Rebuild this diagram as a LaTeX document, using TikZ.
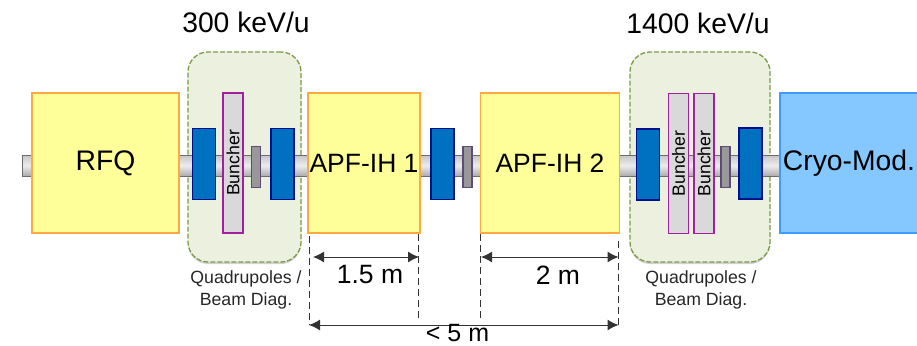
\documentclass[tikz,border=0pt]{standalone}
\usepackage{fontspec}
\setmainfont{Liberation Sans}
\usetikzlibrary{arrows.meta,shadows}
\definecolor{cavfill}{HTML}{FFFF99}
\definecolor{cavline}{HTML}{FFA940}
\definecolor{cryofill}{HTML}{85C8FF}
\definecolor{cryoline}{HTML}{3E9BFF}
\definecolor{diagfill}{HTML}{EBF1DE}
\definecolor{diagline}{HTML}{7C9A48}
\definecolor{quadfill}{HTML}{0070C0}
\definecolor{quadline}{HTML}{000F8C}
\definecolor{bunchline}{HTML}{A0209F}
\definecolor{monfill}{HTML}{989898}
\definecolor{monline}{HTML}{5F4A7B}
\tikzset{
  elem/.style={draw,inner sep=0pt,outer sep=0pt,line width=1.5pt},
  cav/.style={elem,fill=cavfill,draw=cavline},
  cryo/.style={elem,fill=cryofill,draw=cryoline},
  diag/.style={elem,rounded corners=20pt,dashed,dash pattern=on 5pt off 2pt,fill=diagfill,draw=diagline,line width=1.3pt,
    drop shadow={shadow xshift=0pt,shadow yshift=-2pt,fill=black,opacity=.18}},
  quad/.style={elem,fill=quadfill,draw=quadline,minimum width=23pt,minimum height=71pt},
  mon/.style={elem,fill=monfill,draw=monline,minimum width=9pt,minimum height=41pt},
  bunch/.style={elem,fill=gray!30,draw=bunchline,font=\fontsize{17.7}{20}\selectfont,rotate=90,
    minimum width=140pt,minimum height=20pt},
  pipe/.style={elem,draw=gray!85!black,line width=1pt,top color=gray!45,bottom color=gray!65,middle color=gray!15,minimum width=758pt,minimum height=21pt},
  big/.style={font=\fontsize{28.3}{32}\selectfont},
  mid/.style={font=\fontsize{26.5}{30}\selectfont},
  small/.style={font=\fontsize{17.7}{22}\selectfont,align=center,text=black!85},
  dimline/.style={gray!40!black,line width=.9pt,dashed,dash pattern=on 7pt off 4pt},
  dimarrow/.style={black!80,line width=1pt,{Latex[length=11pt,width=11pt]}-{Latex[length=11pt,width=11pt]}},
}
\begin{document}
\begin{tikzpicture}[x=1pt,y=-1pt]
\useasboundingbox (0,0) rectangle (917,345);
% matching sections
\node[diag,minimum width=113pt,minimum height=210pt] (sec1) at (244.5,157) {};
\node[diag,minimum width=140pt,minimum height=210pt] (sec2) at (700,157) {};
% beam line
\node[pipe] (beam) at (401,165.5) {};
% cavities
\node[cav,big,minimum width=147pt,minimum height=140pt] (rfq) at (105.5,163) {RFQ};
\node[cav,mid,minimum width=112pt,minimum height=140pt] (ih1) at (364,163) {APF-IH 1};
\node[cav,mid,minimum width=139pt,minimum height=140pt] (ih2) at (550,163) {APF-IH 2};
\node[cryo,minimum width=160pt,minimum height=140pt] (cm) at (860,163) {};
\node[big] (cmtext) at (849,163) {Cryo-Mod.};
% quadrupoles
\node[quad] (q1) at (204,164) {};
\node[quad] (q2) at (282.5,164) {};
\node[quad] (q3) at (442.5,164) {};
\node[quad] (q4) at (648,164.5) {};
\node[quad] (q5) at (750.5,163.5) {};
% bunchers
\node[bunch] (b1) at (233,163) {Buncher};
\node[bunch] (b2) at (678.5,163.5) {Buncher};
\node[bunch] (b3) at (704,163.5) {Buncher};
% diagnostics
\node[mon] (m1) at (256,167) {};
\node[mon] (m2) at (467.5,167) {};
\node[mon] (m3) at (725.5,167) {};
% energies
\node[big] (e1) at (246,22) {300 keV/u};
\node[big] (e2) at (698,23) {1400 keV/u};
\node[small] (s1) at (246,290) {Quadrupoles /\\Beam Diag.};
\node[small] (s2) at (701,290) {Quadrupoles /\\Beam Diag.};
% dimensions
\coordinate (a1) at (309,325);
\coordinate (a2) at (418.5,319);
\coordinate (a3) at (480,319);
\coordinate (a4) at (618.5,325);
\coordinate (t1) at (309,236);
\coordinate (t2) at (418.5,234);
\coordinate (t3) at (480,234);
\coordinate (t4) at (618.5,241);
\draw[dimline] (t1) -- (a1);
\draw[dimline] (t2) -- (a2);
\draw[dimline] (t3) -- (a3);
\draw[dimline] (t4) -- (a4);
\coordinate (l1) at (313,257);
\coordinate (r1) at (419,257);
\coordinate (l2) at (481,257);
\coordinate (r2) at (618.5,257);
\draw[dimarrow] (l1) -- (r1);
\draw[dimarrow] (l2) -- (r2);
\draw[dimarrow] (a1) -- (a4);
\node[mid] (d1) at (370,275) {1.5 m};
\node[mid] (d2) at (558,275) {2 m};
\node[inner sep=0pt,font=\fontsize{25}{25}\selectfont] (d3) at (457.5,333.5) {< 5 m};
\end{tikzpicture}
\end{document}
